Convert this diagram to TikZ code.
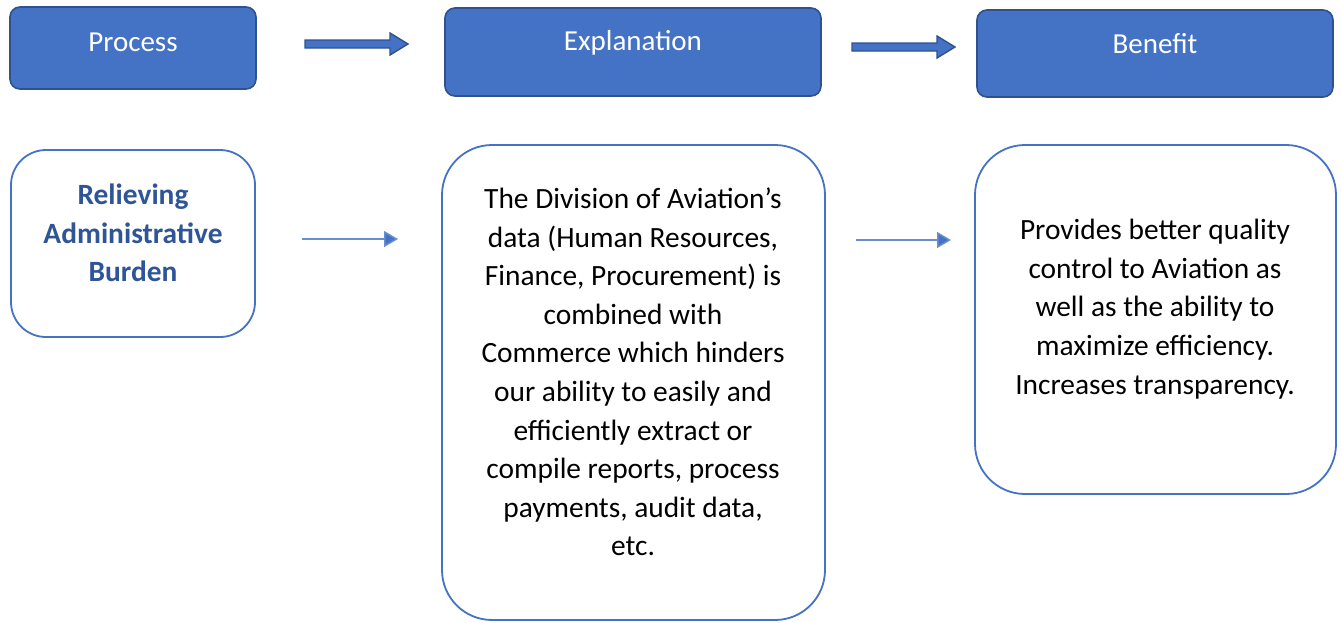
\documentclass[tikz,border=0pt]{standalone}
\usepackage{fontspec}
\setmainfont{Carlito}
\usetikzlibrary{arrows.meta,shapes.arrows}
\definecolor{hdrfill}{HTML}{4472C4}
\definecolor{hdrline}{HTML}{2F528F}
\definecolor{boldtxt}{HTML}{2F5597}
\tikzset{
  x=1pt,y=-1pt,
  hdr/.style={draw=hdrline,line width=1.6pt,fill=hdrfill,rounded corners=10pt},
  hdrtext/.style={text=white,font=\fontsize{29}{34}\selectfont},
  body/.style={draw=hdrfill,line width=1.8pt,fill=white},
  bodytext/.style={align=center,font=\fontsize{29.4}{38.6}\selectfont},
  blockarrow/.style={draw=hdrline,line width=1.4pt,fill=hdrfill},
  thinarrow/.style={draw=hdrfill!80,line width=1.5pt,-{Triangle[length=14pt,width=16pt,fill=hdrfill]}},
}
\begin{document}
\begin{tikzpicture}
\useasboundingbox (0,0) rectangle (1342,622);
% header boxes
\path[hdr] (10,7) rectangle (256,89);
\node[hdrtext] (process) at (133,42) {Process};
\path[hdr] (445,8) rectangle (821,96);
\node[hdrtext] (explanation) at (633,43) {Explanation};
\path[hdr] (977,10) rectangle (1333,97);
\node[hdrtext] (benefit) at (1155,44) {Benefit};
% block arrows
\path[blockarrow] (305,40) -- (390,40) -- (390,33) -- (408,44) -- (390,55) -- (390,48) -- (305,48) -- cycle;
\path[blockarrow] (852,43) -- (937,43) -- (937,36) -- (955,47) -- (937,58) -- (937,51) -- (852,51) -- cycle;
% body boxes
\draw[body,rounded corners=35pt] (11,150) rectangle (255,337);
\node[bodytext,font=\fontsize{29.4}{38.6}\selectfont\bfseries,text=boldtxt] (relieve) at (133,233) {Relieving\\Administrative\\Burden};
\draw[body,rounded corners=50pt] (442,145) rectangle (825,620);
\node[bodytext] (expl) at (633,372) {The Division of Aviation’s\\data (Human Resources,\\Finance, Procurement) is\\combined with\\Commerce which hinders\\our ability to easily and\\efficiently extract or\\compile reports, process\\payments, audit data,\\etc.};
\draw[body,rounded corners=50pt] (975,145) rectangle (1336,494);
\node[bodytext] (ben) at (1155,309) {Provides better quality\\control to Aviation as\\well as the ability to\\maximize efficiency.\\Increases transparency.};
% thin arrows
\coordinate (a1s) at (302,239);
\coordinate (a1e) at (398,239);
\coordinate (a2s) at (856,240);
\coordinate (a2e) at (951,240);
\draw[thinarrow] (a1s) -- (a1e);
\draw[thinarrow] (a2s) -- (a2e);
\end{tikzpicture}
\end{document}
